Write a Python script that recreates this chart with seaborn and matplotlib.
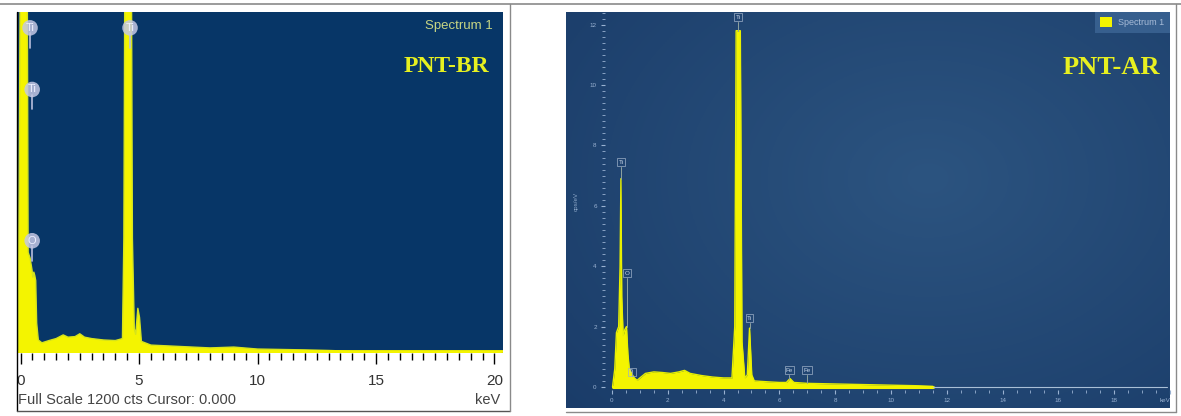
import numpy as np
import pandas as pd
import matplotlib
matplotlib.use("Agg")
import matplotlib.pyplot as plt
import seaborn as sns
from matplotlib.lines import Line2D
from matplotlib.patches import Patch
from matplotlib.ticker import MultipleLocator

# ---------------- data ----------------
# PNT-BR spectrum (energy in keV, counts)
br_kev = [-0.10, 0.00, 0.05, 0.22, 0.28, 0.32, 0.40, 0.48, 0.52, 0.56, 0.60, 0.64,
          0.68, 0.75, 0.90, 1.20, 1.50, 1.80, 2.00, 2.30, 2.50, 2.70, 3.00, 3.50,
          4.00, 4.30, 4.36, 4.42, 4.66, 4.72, 4.80, 4.86, 4.95, 5.02, 5.10, 5.50,
          6.50, 8.00, 9.00, 10.00, 12.00, 13.00, 14.00, 20.30]
br_counts = [0, 1500, 2600, 2600, 1400, 350, 330, 290, 262, 280, 268, 250,
             100, 40, 30, 38, 45, 58, 50, 52, 62, 50, 45, 40,
             38, 45, 400, 1800, 1800, 400, 80, 60, 152, 120, 35, 22,
             18, 12, 15, 8, 5, 3, 0, 0]
br_xticks = [0, 5, 10, 15, 20]
br_peak_names = ["Ti", "Ti", "Ti", "O"]
br_peak_kev = [0.40, 4.62, 0.49, 0.49]
br_peak_counts = [1144, 1144, 926, 391]

# PNT-AR spectrum (energy in keV, cps/eV)
ar_kev = [0.02, 0.10, 0.16, 0.24, 0.29, 0.32, 0.35, 0.40, 0.46, 0.52, 0.57, 0.62,
          0.70, 0.80, 0.90, 1.00, 1.20, 1.50, 1.80, 2.10, 2.40, 2.60, 2.80, 3.20,
          3.60, 4.00, 4.30, 4.40, 4.45, 4.60, 4.66, 4.76, 4.85, 4.93, 5.01, 5.10,
          5.60, 6.00, 6.25, 6.38, 6.52, 7.00, 8.00, 9.00, 10.00, 11.00, 11.50]
ar_cps = [0.0, 0.6, 1.8, 2.0, 4.0, 6.9, 3.0, 1.7, 1.9, 2.0, 1.1, 0.6,
          0.45, 0.30, 0.22, 0.30, 0.45, 0.50, 0.48, 0.45, 0.50, 0.55, 0.45, 0.38,
          0.33, 0.30, 0.30, 2.0, 11.8, 11.8, 1.5, 0.30, 0.40, 1.95, 0.40, 0.20,
          0.17, 0.15, 0.15, 0.28, 0.15, 0.12, 0.10, 0.08, 0.06, 0.04, 0.02]
ar_xticks = [0, 2, 4, 6, 8, 10, 12, 14, 16, 18, 20]
ar_xlabels = ["0", "2", "4", "6", "8", "10", "12", "14", "16", "18", "keV"]
ar_yticks = [0, 2, 4, 6, 8, 10, 12]
ar_peak_names = ["Ti", "O", "Ti", "Ti", "Ti", "Fe", "Fe"]
ar_peak_kev = [0.32, 0.54, 0.71, 4.52, 4.93, 6.36, 7.00]
ar_peak_cps = [7.45, 3.77, 0.50, 12.25, 2.28, 0.56, 0.56]
ar_peak_top = [6.9, 2.0, 0.45, 11.8, 1.95, 0.28, 0.12]

br = pd.DataFrame({"keV": br_kev, "counts": br_counts})
ar = pd.DataFrame({"keV": ar_kev, "cps": ar_cps})

# ---------------- figure ----------------
sns.set_theme(style="white")
plt.rcParams["font.family"] = ["Liberation Sans", "DejaVu Sans"]

W, H = 1181, 416
fig = plt.figure(figsize=(W / 100, H / 100), dpi=100)
fig.patch.set_facecolor("white")


def box(x0, y0, x1, y1):
    return [x0 / W, 1 - y1 / H, (x1 - x0) / W, (y1 - y0) / H]


def fx(x):
    return x / W


def fy(y):
    return 1 - y / H


YELLOW = "#f4f400"

# ---- left panel: PNT-BR ----
axl = fig.add_axes(box(17, 12, 503, 353))
axl.set_facecolor("#073667")
axl.fill_between(br["keV"], br["counts"], -10, color=YELLOW, lw=0, zorder=2)
sns.lineplot(data=br, x="keV", y="counts", ax=axl, color="#d6e41c", lw=1.0,
             zorder=3, sort=False)
axl.axhline(0, color=YELLOW, lw=2, zorder=3)
axl.set_xlim(-0.15, 20.36)
axl.set_ylim(-6, 1200)
for s in axl.spines.values():
    s.set_visible(False)
axl.set_xlabel("")
axl.set_ylabel("")
axl.set_yticks([])
axl.set_xticks(br_xticks, labels=[str(v) for v in br_xticks])
axl.xaxis.set_minor_locator(MultipleLocator(0.5))
axl.tick_params(axis="x", which="major", direction="out", length=8, width=1,
                color="black", labelsize=11, labelcolor="#333333", pad=7,
                bottom=True)
axl.tick_params(axis="x", which="minor", direction="out", length=5, width=1,
                color="black", bottom=True)

for name, e, c in zip(br_peak_names, br_peak_kev, br_peak_counts):
    axl.plot([e, e], [c - 70, c - 20], color="#b8bedc", lw=1.2, zorder=4)
    axl.text(e, c, name, ha="center", va="center", fontsize=8, color="#eef0ff",
             zorder=5,
             bbox=dict(boxstyle="circle,pad=0.25", fc="#c4c8e4", ec="none",
                       alpha=0.85))

axl.text(0.978, 0.96, "Spectrum 1", transform=axl.transAxes, ha="right",
         va="center", fontsize=9.5, color="#c8d684")
fig.text(fx(446), fy(67), "PNT-BR", ha="center", va="center", fontsize=17,
         fontweight="bold", color="#e6f020",
         family=["Liberation Serif", "DejaVu Serif"])

fig.text(fx(18), fy(400), "Full Scale 1200 cts Cursor: 0.000", ha="left",
         va="center", fontsize=10.5, color="#444444")
fig.text(fx(500), fy(400), "keV", ha="right", va="center", fontsize=10.5,
         color="#444444")

# ---- right panel: PNT-AR ----
bg = fig.add_axes(box(566, 12, 1170, 408))
yy, xx = np.mgrid[0:1:200j, 0:1:300j]
r = np.clip(np.sqrt(((xx - 0.6) / 0.8) ** 2 + ((yy - 0.42) / 0.9) ** 2), 0, 1)
c_center = np.array([44, 84, 128]) / 255
c_edge = np.array([26, 60, 105]) / 255
img = c_center * (1 - r)[..., None] + c_edge * r[..., None]
bg.imshow(img, aspect="auto", extent=(0, 1, 0, 1), origin="upper")
bg.set_axis_off()

axr = fig.add_axes(box(605, 12, 1170, 390))
axr.patch.set_alpha(0)
axr.fill_between(ar["keV"], ar["cps"], 0, color=YELLOW, lw=0, zorder=2)
sns.lineplot(data=ar, x="keV", y="cps", ax=axr, color="#e8f000", lw=1.0,
             zorder=3, sort=False)
axr.plot([0.02, 11.5], [0, 0], color=YELLOW, lw=2.2, zorder=3)
axr.plot([11.5, 19.9], [0, 0], color="#a9bfd6", lw=0.8, zorder=3)
axr.set_xlim(-0.25, 19.93)
axr.set_ylim(-0.1, 12.42)
for s in axr.spines.values():
    s.set_visible(False)
axr.set_xlabel("")
axr.set_ylabel("cps/eV", fontsize=4.5, color="#8ea8c8", labelpad=8)
axr.set_xticks(ar_xticks, labels=ar_xlabels)
axr.get_xticklabels()[-1].set_horizontalalignment("right")
axr.set_yticks(ar_yticks, labels=[str(v) for v in ar_yticks])
axr.xaxis.set_minor_locator(MultipleLocator(0.5))
axr.yaxis.set_minor_locator(MultipleLocator(0.2))
pale = "#9ab2d2"
axr.tick_params(axis="both", which="major", direction="out", length=3,
                width=0.8, color=pale, labelsize=4.5, labelcolor=pale, pad=3,
                bottom=True, left=True)
axr.tick_params(axis="both", which="minor", direction="out", length=2,
                width=0.6, color=pale, bottom=True, left=True)

for name, e, c, top in zip(ar_peak_names, ar_peak_kev, ar_peak_cps, ar_peak_top):
    axr.plot([e, e], [top, c - 0.15], color="#8fa3a0", lw=0.7, zorder=4)
    axr.text(e, c, name, ha="center", va="center", fontsize=4.5, color="#c8d6e8",
             zorder=5,
             bbox=dict(boxstyle="square,pad=0.2", fc="none", ec="#9db0c8",
                       lw=0.5))

leg = axr.legend(handles=[Patch(fc=YELLOW, ec="none", label="Spectrum 1")],
                 loc="upper right", bbox_to_anchor=(1.0, 1.0), borderaxespad=0,
                 fontsize=6.5, labelcolor="#a8bcd8", frameon=True, fancybox=False,
                 handlelength=1.3, handleheight=1.3, borderpad=0.6,
                 handletextpad=0.7)
leg.get_frame().set_facecolor("#3d6696")
leg.get_frame().set_edgecolor("none")
leg.set_zorder(6)

fig.text(fx(1111), fy(67), "PNT-AR", ha="center", va="center", fontsize=19,
         fontweight="bold", color="#e8f020",
         family=["Liberation Serif", "DejaVu Serif"])

# ---- frame lines ----
grey = "#8a8a8a"
fig.add_artist(Line2D([0, 1], [fy(4), fy(4)], color=grey, lw=1.2))
fig.add_artist(Line2D([fx(17), fx(17)], [fy(12), fy(411)], color="black", lw=1))
fig.add_artist(Line2D([fx(17), fx(510)], [fy(411), fy(411)], color="#555555", lw=1))
fig.add_artist(Line2D([fx(510), fx(510)], [fy(4), fy(411)], color=grey, lw=1))
fig.add_artist(Line2D([fx(566), fx(1176)], [fy(412), fy(412)], color=grey, lw=1))
fig.add_artist(Line2D([fx(1176), fx(1176)], [fy(4), fy(412)], color=grey, lw=1))

fig.savefig("out.png", dpi=100, facecolor="white")
